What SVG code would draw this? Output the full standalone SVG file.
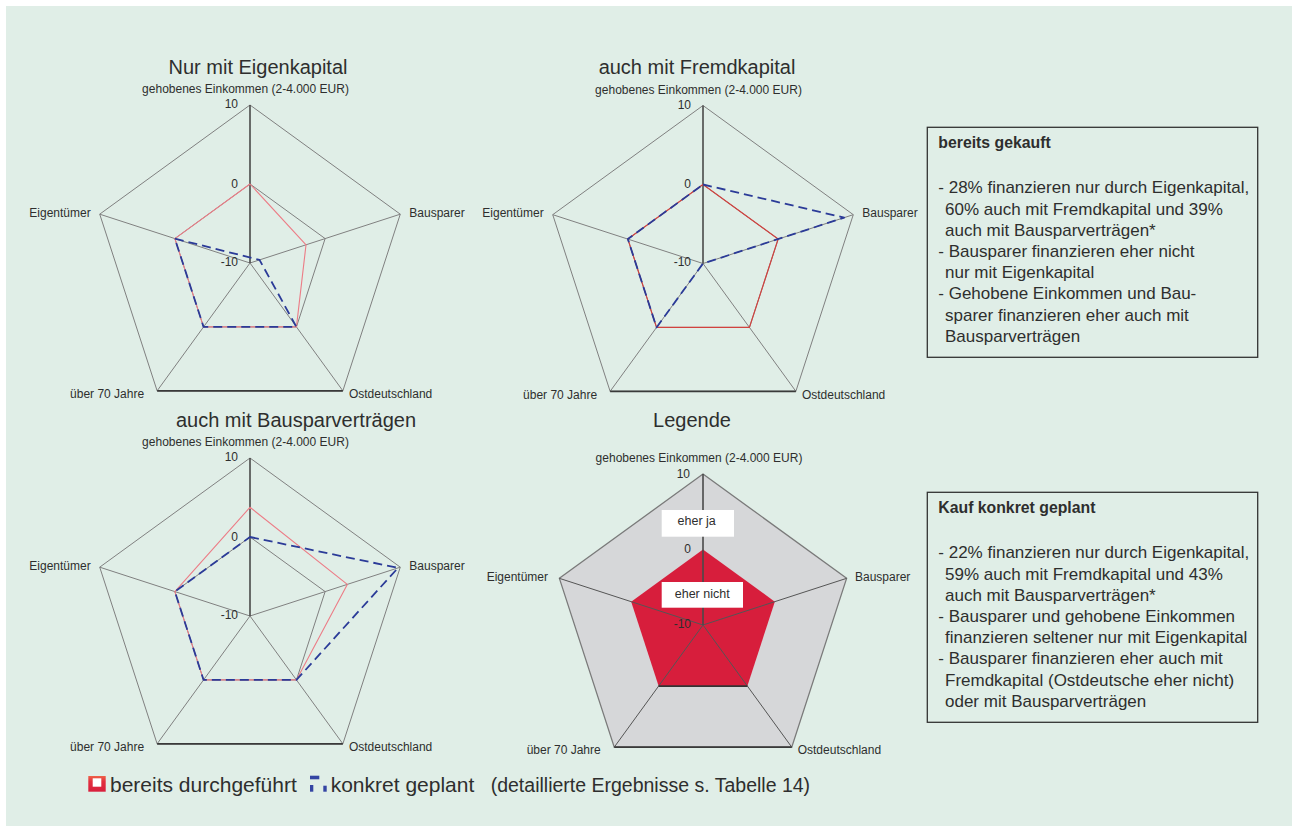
<svg xmlns="http://www.w3.org/2000/svg" xmlns:xlink="http://www.w3.org/1999/xlink" width="1293" height="827" viewBox="0 0 1293 827">
<style>
text{font-family:"Liberation Sans",Arial,sans-serif;fill:#2e2e2e}
.title{font-size:20px;text-anchor:middle}
.ax{font-size:12px}
.tick{font-size:12px;text-anchor:end}
.end{text-anchor:end}
.mid{text-anchor:middle}
.grid{fill:none;stroke:#808080;stroke-width:1}
.axis{stroke:#4a4a4a;stroke-width:1.6;fill:none}
.base{stroke:#3a3a3a;stroke-width:1.8;fill:none}
.red1{fill:none;stroke:#ec7c86;stroke-width:1.1;stroke-linejoin:round}
.red2{fill:none;stroke:#d2423f;stroke-width:1.2;stroke-linejoin:round}
.blue{fill:none;stroke:#2b3b98;stroke-width:1.8;stroke-dasharray:9 5;stroke-linejoin:round}
.box{fill:none;stroke:#333;stroke-width:1.3}
.bt{font-size:17px}
.bh{font-size:15.8px;font-weight:bold}
.leg{font-size:21px}
</style>
<defs>
<linearGradient id="redIcon" x1="0" y1="0" x2="0" y2="1">
<stop offset="0" stop-color="#ee6248"/>
<stop offset="0.35" stop-color="#e2303f"/>
<stop offset="1" stop-color="#d81e3c"/>
</linearGradient>
<g id="grid158">
<polygon class="grid" points="0,-158 150.27,-48.82 92.87,127.82 -92.87,127.82 -150.27,-48.82"/>
<polygon class="grid" points="0,-79 75.14,-24.41 46.44,63.91 -46.44,63.91 -75.14,-24.41"/>
<path class="grid" d="M0,0L150.27,-48.82M0,0L92.87,127.82M0,0L-92.87,127.82M0,0L-150.27,-48.82"/>
<path class="axis" d="M0,0V-158"/>
<path class="base" d="M-92.87,127.82H92.87"/>
</g>
<g id="labels158">
<text class="ax mid" x="-4.5" y="-170">gehobenes Einkommen (2-4.000 EUR)</text>
<text class="tick" x="-12" y="-154.7">10</text>
<text class="tick" x="-12" y="-75.3">0</text>
<text class="tick" x="-12" y="2.7">-10</text>
<text class="ax end" x="-159.3" y="-46.3">Eigentümer</text>
<text class="ax" x="159.3" y="-46.3">Bausparer</text>
<text class="ax end" x="-105.9" y="135.3">über 70 Jahre</text>
<text class="ax" x="98.9" y="135.3">Ostdeutschland</text>
</g>
</defs>
<rect x="6" y="6" width="1286" height="820" fill="#e0eee7"/>

<g id="chart-eigenkapital">
<text class="title" x="258" y="74">Nur mit Eigenkapital</text>
<g transform="translate(250,263)">
<use xlink:href="#grid158"/>
<use xlink:href="#labels158"/>
<polygon class="red1" points="0,-79 56.02,-18.2 46.44,63.91 -46.44,63.91 -75.14,-24.41"/>
<polyline class="blue" points="-75.14,-24.41 9.5,-3.1 46.44,63.91 -46.44,63.91 -75.14,-24.41"/>
</g>
</g>

<g id="chart-fremdkapital">
<text class="title" x="697" y="74">auch mit Fremdkapital</text>
<g transform="translate(703,263.5)">
<use xlink:href="#grid158"/>
<use xlink:href="#labels158"/>
<polygon class="red2" points="0,-79 75.14,-24.41 46.44,63.91 -46.44,63.91 -75.14,-24.41"/>
<polygon class="blue" points="0,-79 141.2,-45.9 0,0 -46.44,63.91 -75.14,-24.41"/>
</g>
</g>

<g id="chart-bausparvertraege">
<text class="title" x="296" y="426.7">auch mit Bausparverträgen</text>
<g transform="translate(250,616)">
<use xlink:href="#grid158"/>
<use xlink:href="#labels158"/>
<polygon class="red1" points="0,-108.7 97.3,-31.6 46.44,63.91 -46.44,63.91 -75.14,-24.41"/>
<polygon class="blue" points="0,-79 148,-48.1 46.44,63.91 -46.44,63.91 -75.14,-24.41"/>
</g>
</g>

<g id="chart-legende">
<text class="title" x="692" y="426.7">Legende</text>
<g transform="translate(703,625)">
<polygon points="0,-151 143.61,-46.66 88.76,122.16 -88.76,122.16 -143.61,-46.66" fill="#d6d7d9" stroke="#7a7a7a" stroke-width="1.3"/>
<polygon points="0,-75.5 71.81,-23.33 44.38,61.08 -44.38,61.08 -71.81,-23.33" fill="#d71e3c"/>
<path stroke="#555" stroke-width="1" fill="none" d="M0,0L143.61,-46.66M0,0L88.76,122.16M0,0L-88.76,122.16M0,0L-143.61,-46.66"/>
<path class="axis" stroke="#222" d="M0,0V-151"/>
<path class="base" d="M-88.76,122.16H88.76"/>
<path stroke="#333" stroke-width="1.6" fill="none" d="M-44.38,61.08H44.38"/>
<rect x="-41.3" y="-115" width="72.3" height="26.7" fill="#fff"/>
<text class="ax mid" x="-6.3" y="-100" style="font-size:12.5px">eher ja</text>
<rect x="-41.3" y="-43" width="81.3" height="25.7" fill="#fff"/>
<text class="ax mid" x="-0.8" y="-27.3" style="font-size:12.5px">eher nicht</text>
<text class="ax mid" x="-4" y="-162.7">gehobenes Einkommen (2-4.000 EUR)</text>
<text class="tick" x="-13" y="-147.3">10</text>
<text class="tick" x="-12" y="-71.7">0</text>
<text class="tick" x="-12" y="3.3">-10</text>
<text class="ax end" x="-155" y="-44">Eigentümer</text>
<text class="ax" x="152" y="-44">Bausparer</text>
<text class="ax end" x="-102.3" y="129.3">über 70 Jahre</text>
<text class="ax" x="94.7" y="129.3">Ostdeutschland</text>
</g>
</g>

<g id="box-gekauft">
<rect class="box" x="927.3" y="127.3" width="330.4" height="230"/>
<text class="bh" x="938.3" y="148.3">bereits gekauft</text>
<text class="bt" x="938.3" y="193.3">- 28% finanzieren nur durch Eigenkapital,</text>
<text class="bt" x="945" y="214.5">60% auch mit Fremdkapital und 39%</text>
<text class="bt" x="945" y="235.7">auch mit Bausparverträgen*</text>
<text class="bt" x="938.3" y="256.9">- Bausparer finanzieren eher nicht</text>
<text class="bt" x="945" y="278.1">nur mit Eigenkapital</text>
<text class="bt" x="938.3" y="299.3">- Gehobene Einkommen und Bau-</text>
<text class="bt" x="945" y="320.5">sparer finanzieren eher auch mit</text>
<text class="bt" x="945" y="341.7">Bausparverträgen</text>
</g>

<g id="box-geplant">
<rect class="box" x="927.3" y="492.3" width="330.4" height="230"/>
<text class="bh" x="938.3" y="513.3">Kauf konkret geplant</text>
<text class="bt" x="938.3" y="558.3">- 22% finanzieren nur durch Eigenkapital,</text>
<text class="bt" x="945" y="579.5">59% auch mit Fremdkapital und 43%</text>
<text class="bt" x="945" y="600.7">auch mit Bausparverträgen*</text>
<text class="bt" x="938.3" y="621.9">- Bausparer und gehobene Einkommen</text>
<text class="bt" x="945" y="643.1">finanzieren seltener nur mit Eigenkapital</text>
<text class="bt" x="938.3" y="664.3">- Bausparer finanzieren eher auch mit</text>
<text class="bt" x="945" y="685.5">Fremdkapital (Ostdeutsche eher nicht)</text>
<text class="bt" x="945" y="706.7">oder mit Bausparverträgen</text>
</g>

<g id="series-legend">
<rect x="88.3" y="776" width="17.4" height="15.7" fill="url(#redIcon)"/>
<rect x="92.7" y="778.3" width="8.6" height="8.4" fill="#fff"/>
<text class="leg" x="110" y="791.7">bereits durchgeführt</text>
<rect x="310" y="775.7" width="9.3" height="3.6" fill="#3445a3"/>
<rect x="310" y="785" width="3.3" height="6.7" fill="#3445a3"/>
<rect x="323.3" y="785.7" width="3.4" height="6" fill="#3445a3"/>
<text class="leg" x="330.7" y="791.7">konkret geplant</text>
<text x="490.7" y="791.7" style="font-size:19.5px">(detaillierte Ergebnisse s. Tabelle 14)</text>
</g>
</svg>
